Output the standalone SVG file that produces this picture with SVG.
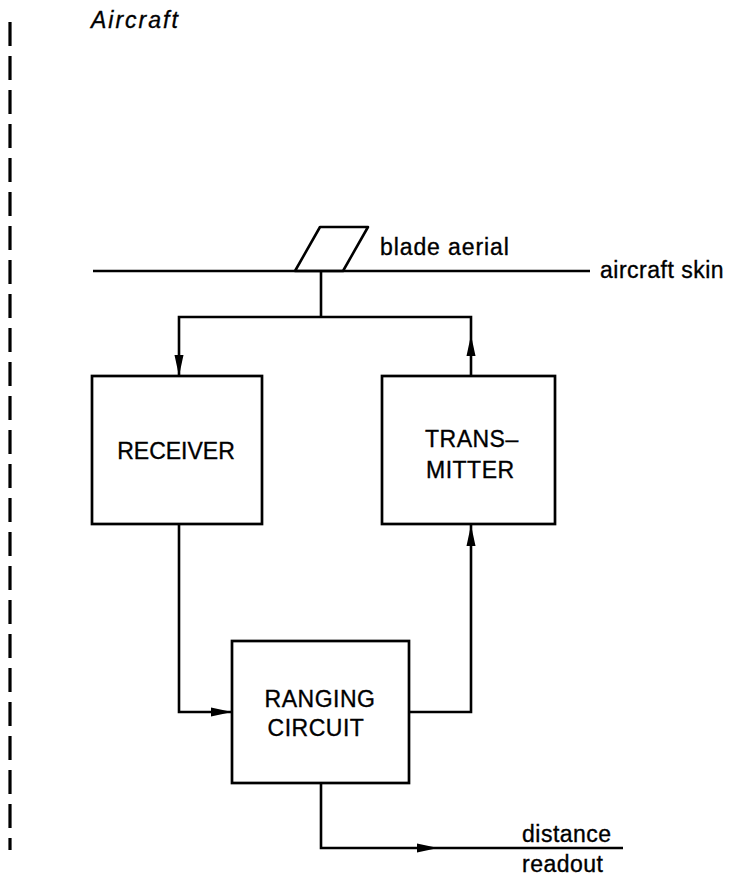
<svg xmlns="http://www.w3.org/2000/svg" width="740" height="877" viewBox="0 0 740 877">
<style>
.ln{fill:none;stroke:#000;stroke-width:2.6}
.box{fill:#fff;stroke:#000;stroke-width:2.7}
.t{font-family:"Liberation Sans",Arial,sans-serif;font-size:23px;fill:#000;stroke:#000;stroke-width:0.35;letter-spacing:0.5px}
.c{text-anchor:middle}
</style>
<defs>
<marker id="ah" markerUnits="userSpaceOnUse" markerWidth="24" markerHeight="12" viewBox="-22 -6 24 12" refX="0" refY="0" orient="auto">
<path d="M0,0 L-21,-4.5 L-21,4.5 Z" fill="#000"/>
</marker>
</defs>
<rect width="740" height="877" fill="#fff"/>
<line x1="10" y1="22" x2="10" y2="850" stroke="#000" stroke-width="3.2" stroke-dasharray="24 10"/>
<text class="t" x="91" y="28" font-style="italic" style="letter-spacing:2px">Aircraft</text>
<g id="skin">
<line class="ln" x1="93" y1="271" x2="590" y2="271"/>
<text class="t" x="600" y="278">aircraft skin</text>
</g>
<g id="aerial">
<polygon class="ln" points="320,227 368,227 343,271 295,271" stroke-linejoin="round"/>
<text class="t" x="380" y="255" style="letter-spacing:0.9px">blade aerial</text>
</g>
<g id="connectors">
<path class="ln" d="M321,271 V317"/>
<path class="ln" d="M471,335 V317 H179 V376" marker-end="url(#ah)"/>
<path class="ln" d="M471,376 V335" marker-end="url(#ah)"/>
<path class="ln" d="M179,524 V712 H232" marker-end="url(#ah)"/>
<path class="ln" d="M409,712 H471 V525" marker-end="url(#ah)"/>
<path class="ln" d="M321,783 V848 H438" marker-end="url(#ah)"/>
<path class="ln" d="M438,848 H623"/>
</g>
<g id="receiver">
<rect class="box" x="92" y="376" width="170" height="148"/>
<text class="t c" x="176" y="459" style="letter-spacing:0">RECEIVER</text>
</g>
<g id="transmitter">
<rect class="box" x="382" y="376" width="173" height="148"/>
<text class="t" x="425" y="447">TRANS–</text>
<text class="t" x="426" y="478">MITTER</text>
</g>
<g id="ranging">
<rect class="box" x="232" y="641" width="177" height="142"/>
<text class="t c" x="320" y="707">RANGING</text>
<text class="t c" x="316" y="736">CIRCUIT</text>
</g>
<g id="readout">
<text class="t" x="522" y="842">distance</text>
<text class="t" x="522" y="872">readout</text>
</g>
</svg>
